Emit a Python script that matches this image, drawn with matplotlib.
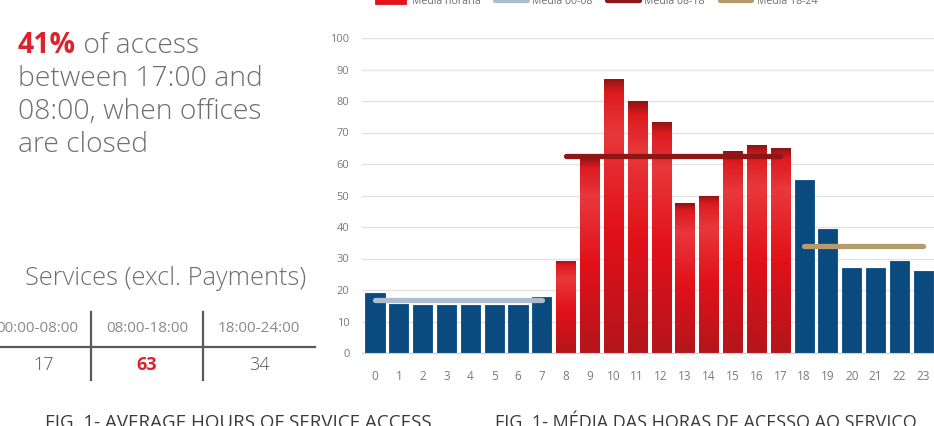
'''
Hourly access to services - bar chart with period averages
'''
import numpy as np
import matplotlib
matplotlib.use('Agg')
import matplotlib.pyplot as plt
from matplotlib.colors import LinearSegmentedColormap
from matplotlib.lines import Line2D
from matplotlib import font_manager

#%%
# data
hours = list(range(24))
access = [19, 15.5, 15.3, 15.3, 15.3, 15.3, 15.3, 17.7, 29.3, 62, 87, 80, 73.4,
          47.5, 50, 64, 66, 65, 55, 39.3, 27, 27, 29.3, 26]
office_hours = [h for h in hours if 8 <= h <= 17]

periods = ['00-08', '08-18', '18-24']
period_start = [0, 8, 18]
period_end = [7, 17, 23]
period_mean = [16.7, 62.5, 34]

table_heads = ['00:00-08:00', '08:00-18:00', '18:00-24:00']
table_vals = ['17', '63', '34']

legend_labels = ['Média horária', 'Média 00-08', 'Média 08-18', 'Média 18-24']

#%%
# style
W, H = 934, 426
blue = '#0A4A7F'
red = '#E3141B'
gray_txt = '#6E6E6E'
mean_colors = ['#AEBCD0', '#8E1616', '#B59A6E']

names = {f.name for f in font_manager.fontManager.ttflist}
base_font = 'Open Sans' if 'Open Sans' in names else 'DejaVu Sans'
narrow_font = 'Liberation Sans Narrow' if 'Liberation Sans Narrow' in names else base_font
plt.rcParams['font.family'] = [base_font, 'DejaVu Sans']

def px(x, y):
    return x / W, 1 - y / H

fig = plt.figure(figsize=(W / 100, H / 100), dpi=100)

#%%
# bar chart
ax = fig.add_axes([362 / W, (H - 353) / H, (934 - 362) / W, (353 - 38) / H])
bar_colors = [red if h in office_hours else blue for h in hours]
bars = ax.bar(hours, access, width=0.8, color=bar_colors, zorder=2,
              edgecolor=bar_colors, linewidth=0.6)

# vertical shading on the red bars
grad = LinearSegmentedColormap.from_list(
    'bar_red', [(0, '#B3161B'), (0.45, '#E2101A'), (0.8, '#E8383B'),
                (0.95, '#DC1A1F'), (1, '#8E1414')])
for h, rect in zip(hours, bars):
    if h not in office_hours:
        continue
    x0, y0 = rect.get_xy()
    im = ax.imshow(np.linspace(0, 1, 256).reshape(-1, 1), cmap=grad, origin='lower',
                   extent=[x0, x0 + rect.get_width(), y0, y0 + rect.get_height()],
                   aspect='auto', zorder=2.5)
    im.set_clip_path(rect)

mean_lines = []
for s, e, m, c in zip(period_start, period_end, period_mean, mean_colors):
    ln, = ax.plot([s, e], [m, m], color=c, lw=3.8, solid_capstyle='round', zorder=4)
    mean_lines.append(ln)

ax.set_xlim(-0.545, 23.45)
ax.set_ylim(0, 100)
ax.set_xticks(hours)
ax.set_yticks(range(0, 101, 10))
ax.grid(axis='y', color='#E3E3E3', lw=1, zorder=0)
ax.set_axisbelow(True)
for sp in ['top', 'right', 'left']:
    ax.spines[sp].set_visible(False)
ax.spines['bottom'].set_color('#D0D0D0')
ax.tick_params(axis='both', length=0, colors='#7A7A7A', labelsize=8)
ax.tick_params(axis='x', pad=12, labelsize=8.5)
ax.tick_params(axis='y', pad=9)

# legend sits mostly above the top edge, as in the reference
handles = [bars[8]] + mean_lines
leg = ax.legend(handles, legend_labels, loc='center', ncol=4, frameon=False,
                bbox_to_anchor=(596 / W, 1 - 1 / H), bbox_transform=fig.transFigure,
                fontsize=7.6, handlelength=3.0, handletextpad=0.5, columnspacing=1.4,
                labelcolor='#6E6E6E')

#%%
# left side text
fs_big = 20.3
t1 = fig.text(*px(18, 53), '41%', color='#E0202A', fontsize=fs_big, fontweight='bold')
ax.annotate(' of access', xy=(1, 0), xycoords=t1, va='bottom', ha='left',
            color=gray_txt, fontsize=fs_big, fontweight='light', annotation_clip=False)
for i, line in enumerate(['between 17:00 and', '08:00, when offices', 'are closed']):
    fig.text(*px(18, 86 + 33 * i), line, color=gray_txt, fontsize=fs_big, fontweight='light')

fig.text(*px(306, 285), 'Services (excl. Payments)', color=gray_txt, fontsize=18.3,
         fontweight='light', ha='right')

# small summary table
for hx, cx, head, val in zip([37, 147, 259], [44, 147, 259], table_heads, table_vals):
    fig.text(*px(hx, 332), head, color='#8A8A8A', fontsize=11, ha='center')
    if val == '63':
        fig.text(*px(cx, 370), val, color='#E0202A', fontsize=13, fontweight='bold', ha='center')
    else:
        fig.text(*px(cx, 370), val, color='#555555', fontsize=13, ha='center', fontweight='light')
fig.add_artist(Line2D([0, 315 / W], [1 - 347 / H] * 2, color='#5A5A5A', lw=1.6,
                      transform=fig.transFigure))
for vx in [91, 203]:
    fig.add_artist(Line2D([vx / W] * 2, [1 - 312 / H, 1 - 380 / H], color='#5A5A5A', lw=1.6,
                          transform=fig.transFigure))

# captions, cut by the bottom edge
fig.text(*px(45, 428), 'FIG. 1- AVERAGE HOURS OF SERVICE ACCESS', color='#3A3A3A',
         fontsize=13.5, family=[narrow_font, 'DejaVu Sans'])
fig.text(*px(495, 428), 'FIG. 1- MÉDIA DAS HORAS DE ACESSO AO SERVIÇO', color='#3A3A3A',
         fontsize=13, family=[narrow_font, 'DejaVu Sans'])

fig.savefig('out.png', dpi=100)
